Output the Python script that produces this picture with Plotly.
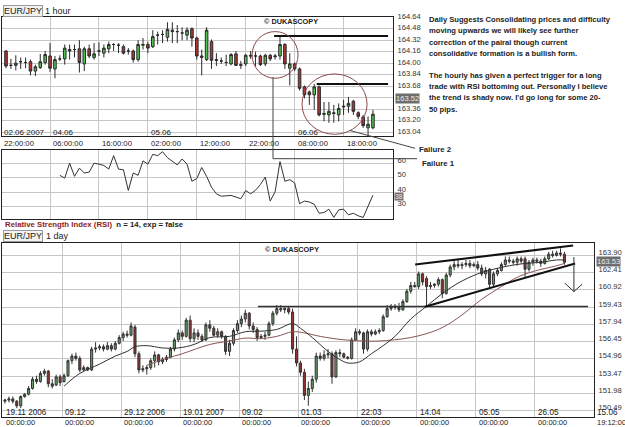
import plotly.graph_objects as go

W, H = 625, 427
def fx(p): return p / W
def fy(p): return 1 - p / H

FONT = "Liberation Sans, Arial, sans-serif"
INK = "#222222"
GRID = "#c6c6c6"

# ---------------- hourly EUR/JPY (1 hour) ----------------
h_open = [164.17,163.97,163.97,164.02,164.01,164.02,163.89,163.94,164.01,164.10,
          163.92,164.06,164.06,164.19,164.19,164.20,163.99,164.20,164.08,164.17,
          164.14,164.20,164.26,164.25,164.23,164.17,164.17,164.05,164.25,164.26,
          164.23,164.39,164.40,164.36,164.46,164.44,164.42,164.39,164.48,164.35,
          164.10,164.05,164.30,164.05,164.03,164.01,163.99,164.13,163.98,163.99,
          164.11,164.10,164.10,163.99,164.11,164.09,164.10,164.26,163.93,163.99,
          163.92,163.67,163.60,163.56,163.67,163.30,163.28,163.31,163.28,163.39,
          163.40,163.47,163.31,163.25,163.10,163.10]
h_high = [164.18,164.06,164.11,164.08,164.08,164.05,163.98,164.13,164.17,164.28,
          164.10,164.11,164.26,164.26,164.26,164.32,164.23,164.26,164.28,164.29,
          164.26,164.30,164.28,164.28,164.26,164.21,164.19,164.32,164.35,164.30,
          164.46,164.44,164.46,164.57,164.57,164.53,164.50,164.50,164.50,164.37,
          164.19,164.50,164.33,164.14,164.08,164.12,164.14,164.17,164.03,164.13,
          164.17,164.16,164.12,164.13,164.13,164.13,164.37,164.28,164.14,164.01,
          163.94,163.69,163.62,163.71,163.69,163.46,163.46,163.42,163.44,163.49,
          163.53,163.49,163.33,163.28,163.26,163.35]
h_low = [163.93,163.92,163.90,163.92,163.93,163.83,163.82,163.92,163.98,163.88,
         163.79,164.03,163.98,164.05,164.08,163.87,163.89,164.07,164.05,164.10,
         164.08,164.14,164.17,164.14,164.12,164.12,164.01,164.02,164.19,164.14,
         164.21,164.26,164.28,164.30,164.28,164.28,164.32,164.32,164.23,164.05,
         163.83,164.03,163.92,163.96,163.99,163.96,163.97,163.96,163.92,163.96,
         164.06,163.96,163.96,163.96,164.03,164.05,164.05,163.92,163.69,163.89,
         163.62,163.51,163.42,163.35,163.26,163.19,163.17,163.17,163.19,163.28,
         163.31,163.28,163.22,163.10,162.99,163.08]
h_close = [163.96,163.97,164.00,164.02,164.01,163.89,163.95,164.02,164.12,163.93,
           164.05,164.06,164.21,164.17,164.19,164.01,164.20,164.10,164.13,164.17,
           164.21,164.26,164.26,164.25,164.14,164.17,164.05,164.26,164.26,164.21,
           164.37,164.39,164.40,164.47,164.44,164.44,164.42,164.46,164.35,164.10,
           164.08,164.46,164.04,164.04,164.03,164.01,164.12,163.97,163.97,164.11,
           164.10,164.10,163.98,164.11,164.06,164.10,164.26,163.99,163.99,163.92,
           163.65,163.56,163.56,163.67,163.28,163.29,163.33,163.30,163.37,163.40,
           163.44,163.33,163.26,163.13,163.15,163.29]
h_price_ticks = [163.04,163.20,163.36,163.52,163.68,163.84,164.00,164.16,164.32,164.48,164.64]
h_last_marker = "163.52"
h_grid_idx = [9, 19, 29, 39, 49, 59, 69]
h_time_idx = [-1, 9, 19, 29, 39, 49, 59, 69]
h_time_labels = ["22:00:00","06:00:00","16:00:00","02:00:00","12:00:00","22:00:00","08:00:00","18:00:00"]
h_date_idx = [-1, 9, 29, 59]
h_date_labels = ["02.06 2007", "04.06", "05.06", "06.06"]

# ---------------- RSI (n = 14) ----------------
rsi_start = 11
rsi_vals = [51.6,49.7,60.0,50.9,56.6,53.2,53.8,60.0,59.3,58.4,55.9,65.2,55.9,55.4,41.1,
            53.2,51.6,61.6,59.3,66.1,65.2,67.9,63.8,61.1,58.8,62.9,59.3,47.5,49.3,57.0,
            50.9,43.4,38.8,37.2,37.2,37.7,36.6,35.4,41.1,38.8,41.3,45.2,50.4,33.8,40.2,
            61.1,47.5,48.6,46.3,32.0,33.8,33.2,31.6,25.4,25.9,28.2,22.5,27.7,28.2,24.3,
            25.4,23.6,22.5,30.4,37.9]
rsi_ticks = [30, 40, 50, 60]
rsi_marker = "38"

# ---------------- daily EUR/JPY (1 day) ----------------
d_open = [151.3,151.4,151.5,151.3,150.9,151.7,151.9,152.4,153.2,153.0,
          153.7,153.9,152.8,152.7,153.4,153.0,153.5,154.8,155.2,155.0,
          154.0,154.2,154.0,155.8,155.9,156.0,155.8,156.1,155.8,156.3,
          156.8,157.1,157.0,157.7,155.4,154.0,154.1,154.2,154.8,155.3,
          154.7,154.9,155.1,155.8,156.6,157.2,156.9,158.3,156.7,157.2,
          156.9,156.6,157.9,157.6,157.0,157.3,156.9,155.6,156.3,157.4,
          158.0,158.4,158.9,157.8,157.5,156.8,156.9,157.0,158.0,158.9,
          159.3,159.2,159.3,159.0,155.8,154.6,153.8,151.8,152.4,153.2,
          155.2,155.0,155.3,155.4,153.4,155.5,155.4,155.1,155.0,156.6,
          157.3,157.2,155.8,157.3,157.1,157.3,157.4,158.6,159.3,159.5,
          159.4,159.2,159.9,160.8,161.3,161.2,162.3,161.9,161.2,161.3,
          161.4,161.8,160.6,162.2,162.9,163.1,163.0,163.1,163.2,163.0,
          163.1,162.8,162.3,162.7,161.4,162.3,162.6,163.1,163.5,163.4,
          163.3,163.6,163.6,162.7,163.3,163.5,163.4,163.2,163.6,164.0,
          163.9,164.1,164.0]
d_high = [151.5,151.7,151.7,151.4,151.8,152.0,152.6,153.4,153.5,153.9,
          154.1,154.0,153.2,153.6,153.6,153.7,154.9,155.4,155.5,155.2,
          154.4,154.3,156.0,156.4,156.2,156.2,156.4,156.3,156.5,157.0,
          157.3,157.4,158.1,157.9,155.6,154.4,154.4,155.0,155.6,155.4,
          155.1,155.3,156.0,156.8,157.5,157.4,158.5,158.7,157.6,157.5,
          157.1,158.1,158.3,157.8,157.6,157.4,157.0,156.6,157.6,158.3,
          158.7,159.2,159.0,158.1,157.7,157.1,157.3,158.2,159.1,159.6,
          159.6,159.5,159.5,159.3,156.9,154.8,154.1,153.0,153.5,155.5,
          155.5,155.7,155.8,155.6,155.7,155.8,155.5,155.2,156.8,157.6,
          157.5,157.3,157.5,157.5,157.5,157.6,158.8,159.6,159.7,159.7,
          159.8,160.1,161.0,161.6,161.6,162.5,162.4,162.1,161.6,161.5,
          162.0,161.9,162.4,163.1,163.4,163.5,163.3,163.5,163.5,163.3,
          163.4,163.1,162.9,162.8,162.5,162.8,163.3,163.8,163.8,163.6,
          163.8,163.8,163.8,163.5,163.7,163.7,163.6,163.8,164.2,164.3,
          164.3,164.5,164.2]
d_low = [151.1,151.2,151.1,150.7,150.7,151.6,151.8,152.3,152.8,152.9,
         153.5,152.5,152.4,152.6,152.6,152.9,153.4,154.5,154.8,153.8,
         153.9,153.9,153.9,155.5,155.7,155.6,155.7,155.6,155.7,156.2,
         156.5,156.8,156.9,155.1,153.7,153.8,153.6,154.0,154.2,154.4,
         154.5,154.7,155.0,155.6,156.4,156.6,156.8,156.4,156.4,156.6,
         156.4,156.5,157.3,156.9,156.8,156.7,155.3,155.2,156.1,157.2,
         157.7,158.1,157.5,157.2,156.5,156.7,156.6,156.9,157.8,158.7,
         159.0,158.9,158.8,155.4,154.3,153.5,151.4,150.9,152.1,152.9,
         154.8,154.8,155.0,152.8,153.3,155.1,155.0,154.9,154.9,156.5,
         157.0,155.4,155.6,156.9,157.0,157.1,157.3,158.5,159.1,159.2,
         159.0,159.1,159.8,160.6,161.1,161.0,161.3,159.5,161.0,161.1,
         161.2,160.2,160.5,162.0,162.6,162.8,162.7,162.9,162.8,162.9,
         162.6,162.1,161.9,161.0,161.2,162.1,162.5,163.0,163.2,163.1,
         163.0,163.2,162.0,162.5,163.0,163.2,162.9,163.1,163.5,163.7,
         163.8,163.8,163.1]
d_close = [151.4,151.5,151.3,150.9,151.7,151.9,152.4,153.2,153.0,153.7,
           153.9,152.8,152.6,153.4,152.9,153.5,154.8,155.2,155.0,154.0,
           154.2,154.0,155.8,155.9,156.0,155.8,156.1,155.8,156.3,156.8,
           157.1,157.0,157.8,155.4,154.0,154.1,154.2,154.8,155.3,154.7,
           154.9,155.1,155.8,156.6,157.2,156.9,158.3,156.7,157.2,156.9,
           156.6,157.9,157.6,157.0,157.3,156.9,155.6,156.3,157.4,158.0,
           158.4,158.9,157.8,157.5,156.8,156.9,157.0,158.0,158.9,159.3,
           159.2,159.3,159.0,155.8,154.6,153.8,151.8,152.4,153.2,155.2,
           155.0,155.3,155.4,153.4,155.5,155.4,155.1,155.0,156.6,157.3,
           157.2,155.8,157.3,157.1,157.3,157.4,158.6,159.3,159.5,159.4,
           159.2,159.9,160.8,161.3,161.2,162.3,161.6,161.2,161.3,161.4,
           161.8,160.6,162.2,162.9,163.1,163.0,163.1,163.2,163.0,163.1,
           162.8,162.3,162.6,161.4,162.3,162.6,163.1,163.5,163.4,163.3,
           163.6,163.4,162.7,163.3,163.5,163.4,163.2,163.6,164.0,163.9,
           164.1,164.0,163.3]
ma_fast_idx = [15,19,24,28,31,33,36,40,44,48,52,57,61,65,69,73,75,78,82,85,87,90,93,96,99,
               103,107,111,115,120,124,128,132,136,140,142]
ma_fast_val = [152.6,153.7,154.5,155.2,155.6,156.0,156.1,155.9,155.9,156.2,156.8,156.9,157.3,
               157.35,157.5,158.0,157.6,156.8,155.6,154.9,154.6,154.7,155.4,156.1,156.9,
               158.4,159.5,160.6,161.5,162.3,162.7,163.0,163.2,163.3,163.5,163.5]
ma_slow_idx = [36,41,45,52,57,61,65,69,73,76,80,86,91,95,103,110,115,121,126,130,134,140,142]
ma_slow_val = [154.4,155.0,155.4,156.2,156.5,156.75,156.7,156.9,157.3,157.2,156.9,156.6,156.5,
               156.5,156.8,157.5,158.5,160.1,161.2,162.0,162.5,163.0,163.2]
d_price_ticks = [150.49,151.98,153.47,154.96,156.45,157.94,159.43,160.92,162.41,163.90]
d_last_marker = "163.53"
d_grid_idx = [14.5,29.5,44.5,59.5,74.5,89.5,104.5,119.5,134.5]
d_label_idx = [-0.5,14.5,29.5,44.5,59.5,74.5,89.5,104.5,119.5,134.5,149.5]
d_date_labels = ["19.11 2006","09.12","29.12 2006","19.01 2007","09.02","01.03","22:03",
                 "14.04","05.05","26.05","15.06"]
d_time_labels = ["00:00:00"]*10 + ["19:12:00"]

# ---------------- drawn analysis objects ----------------
h_res_lines = [(54.8, 78.1, 164.38), (63.5, 78.1, 163.71)]
h_circles = [(50.3, 164.44, 59.7, 163.79), (60.5, 163.85, 73.8, 163.01)]
d_support = (64.2, 148.0, 159.48)
d_wedge = [((104.1, 163.10), (144.2, 164.75)), ((106.6, 159.46), (144.7, 163.20))]
d_arrow = [((144.4, 163.75), (144.4, 160.77)), ((142.1, 161.49), (144.4, 160.77)),
           ((144.4, 160.77), (146.5, 161.41))]

comment_lines = ["Daily Suggests Consolidating prices and difficulty",
                 "moving upwards we will likely see further",
                 "correction of the pairal though current",
                 "consolidative formation is a bullish form.",
                 "The hourly has given a perfect trigger for a long",
                 "trade with RSI bottoming out. Personally I believe",
                 "the trend is shady now. I'd go long for some 20-",
                 "50 pips."]
comment_y = [15, 26.3, 37.6, 48.9, 71.5, 82.8, 94.1, 105.4]

# pane geometry (pixels) and axis ranges
HX = (2, 393, -0.82, 79.1)
DX = (2, 594, -0.75, 149.5)
def to_px(i, g):
    a, b, r0, r1 = g
    return a + (i - r0) / (r1 - r0) * (b - a)

fig = go.Figure()
fig.add_trace(go.Candlestick(x=list(range(len(h_open))), open=h_open, high=h_high,
                             low=h_low, close=h_close, xaxis="x", yaxis="y",
                             increasing=dict(line=dict(color="#2b2b2b", width=1), fillcolor="#4fc24f"),
                             decreasing=dict(line=dict(color="#2b2b2b", width=1), fillcolor="#b23333"),
                             whiskerwidth=0, showlegend=False, hoverinfo="skip"))
fig.add_trace(go.Scatter(x=list(range(rsi_start, rsi_start + len(rsi_vals))), y=rsi_vals,
                         xaxis="x2", yaxis="y2", mode="lines",
                         line=dict(color="#333333", width=1), showlegend=False, hoverinfo="skip"))
fig.add_trace(go.Candlestick(x=list(range(len(d_open))), open=d_open, high=d_high,
                             low=d_low, close=d_close, xaxis="x3", yaxis="y3",
                             increasing=dict(line=dict(color="#333333", width=1), fillcolor="#6a9e6a"),
                             decreasing=dict(line=dict(color="#333333", width=1), fillcolor="#8e3535"),
                             whiskerwidth=0, showlegend=False, hoverinfo="skip"))
fig.add_trace(go.Scatter(x=ma_slow_idx, y=ma_slow_val, xaxis="x3", yaxis="y3", mode="lines",
                         line=dict(color="#8a5555", width=1, shape="spline"),
                         showlegend=False, hoverinfo="skip"))
fig.add_trace(go.Scatter(x=ma_fast_idx, y=ma_fast_val, xaxis="x3", yaxis="y3", mode="lines",
                         line=dict(color="#303030", width=1, shape="spline"),
                         showlegend=False, hoverinfo="skip"))

tickfont = dict(family=FONT, size=7.6, color="#333333")
frame = dict(showline=True, mirror=True, linecolor=INK, linewidth=1, zeroline=False,
             showgrid=True, gridcolor=GRID, gridwidth=1, fixedrange=True)

# the current-price marker covers its own scale label in the original
h_ticktext = [("" if f"{v:.2f}" == h_last_marker else f"{v:.2f}") for v in h_price_ticks]

layout = dict(
    width=W, height=H, margin=dict(l=0, r=0, t=0, b=0),
    paper_bgcolor="white", plot_bgcolor="white", showlegend=False, boxgap=0.25,
    xaxis=dict(domain=[fx(HX[0]), fx(HX[1])], range=[HX[2], HX[3]], anchor="y",
               tickvals=h_grid_idx, showticklabels=False, ticks="",
               rangeslider=dict(visible=False), **frame),
    yaxis=dict(domain=[fy(133), fy(12)], range=[162.98, 164.645], anchor="x", side="right",
               tickvals=h_price_ticks, ticktext=h_ticktext,
               ticks="", tickfont=tickfont, ticklabelshift=-1, ticklabelstandoff=2, **frame),
    xaxis2=dict(domain=[fx(HX[0]), fx(HX[1])], range=[HX[2], HX[3]], anchor="y2",
                tickvals=h_grid_idx, showticklabels=False, ticks="", **frame),
    yaxis2=dict(domain=[fy(217), fy(147)], range=[21.1, 68.9], anchor="x2", side="right",
                tickvals=rsi_ticks, ticks="", tickfont=tickfont, ticklabelshift=-3,
                ticklabelstandoff=2, **frame),
    xaxis3=dict(domain=[fx(DX[0]), fx(DX[1])], range=[DX[2], DX[3]], anchor="y3",
                tickvals=d_grid_idx, showticklabels=False, ticks="",
                rangeslider=dict(visible=False), **frame),
    yaxis3=dict(domain=[fy(416.7), fy(241)], range=[149.95, 164.95], anchor="x3", side="right",
                tickvals=d_price_ticks, ticktext=[f"{v:.2f}" for v in d_price_ticks],
                ticks="", tickfont=tickfont, ticklabelshift=-3, ticklabelstandoff=2, **frame),
)
fig.update_layout(**layout)

ann = []
def lab(text, x, y, size=9, xanchor="left", yanchor="middle", color="#222222", **kw):
    ann.append(dict(text=text, x=fx(x), y=fy(y), xref="paper", yref="paper",
                    xanchor=xanchor, yanchor=yanchor, showarrow=False,
                    font=dict(family=FONT, size=size, color=color), **kw))

# titles
box = dict(bordercolor="#9a9a9a", borderwidth=1, borderpad=0, bgcolor="#f3f3f3")
lab("EUR/JPY", 3, 6, size=9, **box)
lab("1 hour", 43, 6, size=9)
lab("EUR/JPY", 3, 234, size=9, **box)
lab("1 day", 44, 234, size=9)
lab("<b><span style='color:#8b1c1c'>Relative Strength Index (RSI)</span>  n = 14, exp = false</b>",
    3, 222, size=7.8)
lab("<b>© DUKASCOPY</b>", 262, 17, size=7.3)
lab("<b>© DUKASCOPY</b>", 263, 247, size=7.3)

# hourly time/date labels (left-aligned at the vertical grid lines)
for i, t in zip(h_time_idx, h_time_labels):
    lab(t, to_px(i, HX) + 1, 140.5, size=7.7)
for i, t in zip(h_date_idx, h_date_labels):
    lab(t, to_px(i, HX) + 1, 129, size=8)
# daily date/time labels
for i, t, tt in zip(d_label_idx, d_date_labels, d_time_labels):
    lab(t, to_px(i, DX) + 1, 412.5, size=8.2)
    lab(tt, to_px(i, DX) + 1, 422.5, size=7.5)

# current-value markers on the price scales
hl = dict(bgcolor="#6d6d6d", borderpad=0)
lab(h_last_marker, 395, 94.5, size=7.6, color="#eeeeee", **hl)
lab(rsi_marker, 394, 194, size=6.8, color="#eeeeee", **hl)
lab(d_last_marker, 596, 259.5, size=7.6, color="#eeeeee", **hl)

# commentary
for t, yy in zip(comment_lines, comment_y):
    lab("<b>" + t + "</b>", 427, yy, size=7.6)
lab("<b>Failure 2</b>", 417, 146.5, size=7.8)
lab("<b>Failure 1</b>", 420, 160.5, size=7.8)

fig.update_layout(annotations=ann)

shapes = []
for x0, x1, yv in h_res_lines:
    shapes.append(dict(type="line", xref="x", yref="y", x0=x0, x1=x1, y0=yv, y1=yv,
                       line=dict(color="#111111", width=2)))
for x0, y0, x1, y1 in h_circles:
    shapes.append(dict(type="circle", xref="x", yref="y", x0=x0, y0=y0, x1=x1, y1=y1,
                       line=dict(color="#8a4a4a", width=1)))
for (a, b, c, d) in [(273, 73, 273, 155.5), (273, 155.5, 417, 155.5), (350, 127, 415, 145)]:
    shapes.append(dict(type="line", xref="paper", yref="paper", x0=fx(a), y0=fy(b),
                       x1=fx(c), y1=fy(d), line=dict(color="#444444", width=1)))
shapes.append(dict(type="line", xref="x3", yref="y3", x0=d_support[0], x1=d_support[1],
                   y0=d_support[2], y1=d_support[2], line=dict(color="#333333", width=1.5)))
for (p0, p1) in d_wedge:
    shapes.append(dict(type="line", xref="x3", yref="y3", x0=p0[0], y0=p0[1], x1=p1[0],
                       y1=p1[1], line=dict(color="#111111", width=2)))
for (p0, p1) in d_arrow:
    shapes.append(dict(type="line", xref="x3", yref="y3", x0=p0[0], y0=p0[1], x1=p1[0],
                       y1=p1[1], line=dict(color="#333333", width=1)))
fig.update_layout(shapes=shapes)

fig.write_html("out.html")
